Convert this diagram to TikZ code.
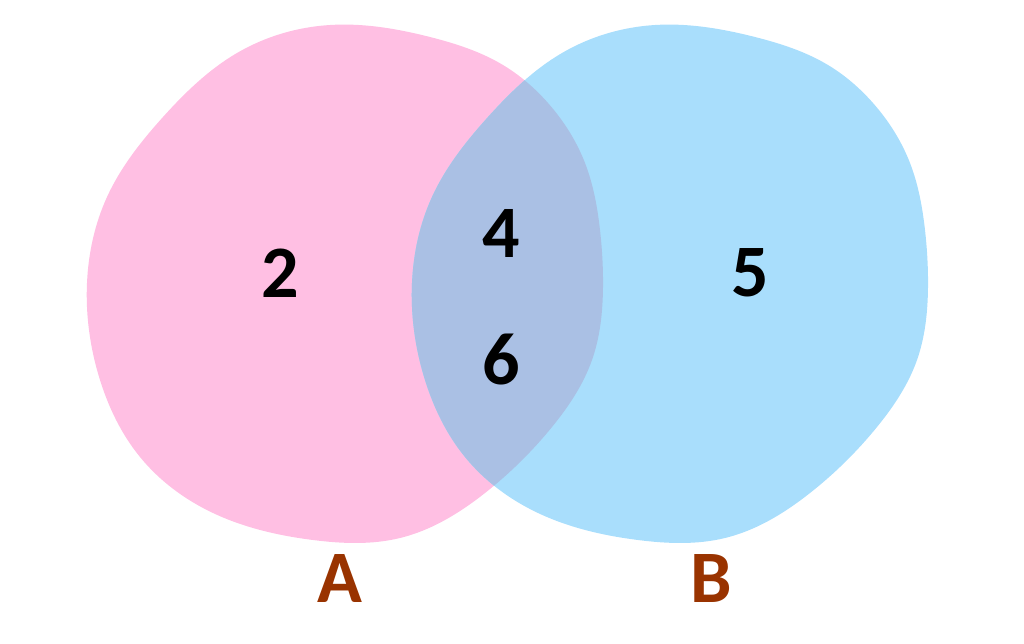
\documentclass[tikz,border=0pt]{standalone}
\usepackage{fontspec}
\setmainfont{Carlito}
\usetikzlibrary{hobby}
\definecolor{setA}{RGB}{255,191,227}
\definecolor{setB}{RGB}{169,222,252}
\definecolor{setAB}{RGB}{170,192,228}
\definecolor{labelbrown}{RGB}{153,51,0}
\begin{document}
\begin{tikzpicture}[x=1pt,y=-1pt,use Hobby shortcut,
    num/.style={anchor=base,inner sep=0pt,font=\fontsize{74}{80}\selectfont\bfseries},
    setlabel/.style={num,text=labelbrown}]
  \useasboundingbox (0,0) rectangle (1024,643);
  \pgfmathsetmacro{\s}{325} % shift of B
  \def\blob{([closed]330,25) .. (430,37) .. (503,65) .. (548,103) .. (585,163) .. (600,230) .. (603,287) .. (592,360) .. (552,427) .. (485,493) .. (400,538) .. (313,540) .. (213,513) .. (140,457) .. (100,380) .. (87,283) .. (107,197) .. (163,117) .. (237,53) .. (330,25)}
  % sets
  \fill[setA] \blob;
  \fill[setB,xshift=\s pt] \blob;
  % overlap
  \begin{scope}
    \clip \blob;
    \fill[setAB,xshift=\s pt] \blob;
  \end{scope}
  % numbers
  \node[num] (n2) at (280,297) {2};
  \node[num] (n4) at (501,257) {4};
  \node[num] (n6) at (501,384) {6};
  \node[num] (n5) at (750,296) {5};
  % labels
  \node[setlabel] (A) at (340,602) {A};
  \node[setlabel] (B) at (711,602) {B};
\end{tikzpicture}
\end{document}
